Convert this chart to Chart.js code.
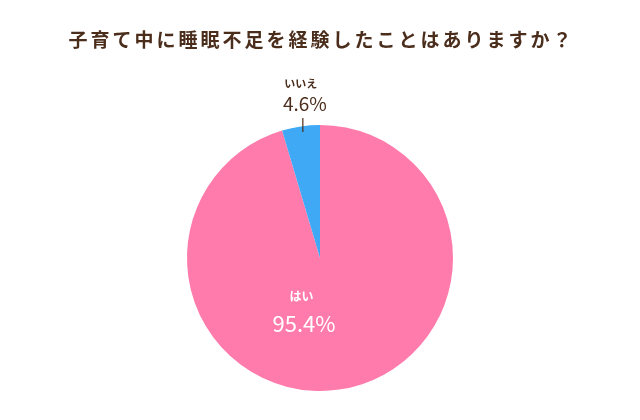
<!DOCTYPE html>
<html><head><meta charset="utf-8">
<script src="https://cdn.jsdelivr.net/npm/chart.js@4"></script>
<style>html,body{margin:0;padding:0;background:#fff}#wrap{width:640px;height:420px}</style>
</head><body><div id="wrap"><canvas id="c" width="640" height="420"></canvas></div>
<script>
const titleText = '子育て中に睡眠不足を経験したことはありますか？';
const categories = ['はい', 'いいえ'];
const values = [95.4, 4.6];
const valueLabels = ['95.4%', '4.6%'];
const colors = ['#FF7BAC', '#3FA9F5'];
const brown = '#4B2D1C';
const FONT = '"Noto Sans CJK JP", "Noto Sans", sans-serif';

const labelPlugin = {
  id: 'labels',
  afterDraw(chart) {
    const ctx = chart.ctx;
    const meta = chart.getDatasetMeta(0);
    ctx.save();
    // title
    ctx.fillStyle = brown;
    ctx.font = 'bold 19px ' + FONT;
    ctx.textAlign = 'center';
    ctx.textBaseline = 'middle';
    ctx.letterSpacing = '3px';
    ctx.fillText(titleText, chart.width / 2 + 1.5, 40);
    ctx.letterSpacing = '0px';

    // pink (inside)
    const a0 = meta.data[0];
    const cx = a0.x, cy = a0.y, r = a0.outerRadius;
    ctx.fillStyle = '#fff';
    ctx.font = 'bold 12px ' + FONT;
    ctx.fillText(categories[0], cx - 0.14 * r, cy + 0.29 * r);
    ctx.font = '22px ' + FONT;
    ctx.fillText(valueLabels[0], cx - 0.12 * r, cy + 0.49 * r);

    // blue (outside with leader)
    const a1 = meta.data[1];
    const mid = (a1.startAngle + a1.endAngle) / 2;
    const lx = cx + Math.cos(mid) * r + 2;
    ctx.strokeStyle = brown;
    ctx.lineWidth = 1.2;
    ctx.beginPath();
    ctx.moveTo(lx, cy - r - 7);
    ctx.lineTo(lx, cy - r + 7);
    ctx.stroke();
    ctx.fillStyle = brown;
    ctx.font = 'bold 11px ' + FONT;
    ctx.fillText(categories[1], lx - 2, cy - r - 41);
    ctx.font = '19px ' + FONT;
    ctx.fillText(valueLabels[1], lx + 2, cy - r - 21);
    ctx.restore();
  }
};

new Chart(document.getElementById('c'), {
  type: 'pie',
  data: {
    labels: categories,
    datasets: [{ data: values, backgroundColor: colors, borderWidth: 0 }]
  },
  options: {
    responsive: false,
    animation: false,
    layout: { padding: { top: 125, bottom: 29 } },
    plugins: { legend: { display: false }, tooltip: { enabled: false }, title: { display: false } }
  },
  plugins: [labelPlugin]
});
</script></body></html>
